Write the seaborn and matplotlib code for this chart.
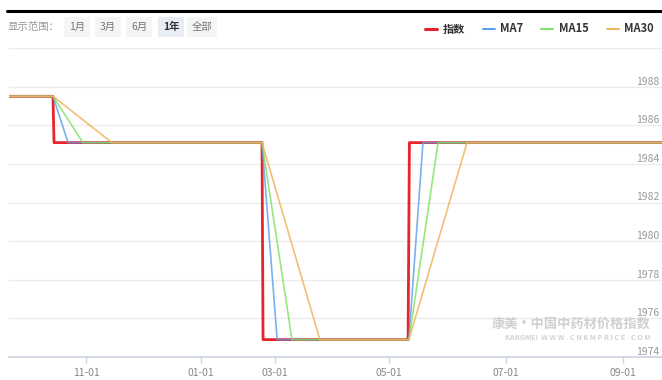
import matplotlib
matplotlib.use("Agg")
import matplotlib.pyplot as plt
import seaborn as sns
import pandas as pd
from matplotlib.lines import Line2D

# x = trading-day index, values = price index
idx_main = [0, 16.4, 16.8, 95.1, 95.5, 150.1, 150.6, 246]
val_main = [1987.5, 1987.5, 1985.1, 1985.1, 1974.9, 1974.9, 1985.1, 1985.1]
idx_ma7 = [0, 16.4, 22.1, 95.1, 100.8, 150.4, 155.7, 246]
idx_ma15 = [0, 16.4, 27.7, 95.1, 106.4, 150.4, 161.4, 246]
idx_ma30 = [0, 16.4, 38.6, 95.1, 116.9, 150.4, 172.3, 246]
val_ma = [1987.5, 1987.5, 1985.1, 1985.1, 1974.9, 1974.9, 1985.1, 1985.1]

tick_pos = [29, 72, 100, 143, 187, 231]
tick_lbl = ['11-01', '01-01', '03-01', '05-01', '07-01', '09-01']
y_ticks = [1974, 1976, 1978, 1980, 1982, 1984, 1986, 1988, 1990]
y_lbls = ['1974', '1976', '1978', '1980', '1982', '1984', '1986', '1988', '']

series = ['指数', 'MA7', 'MA15', 'MA30']
colors = ['#e8242a', '#5a9ee8', '#7fe05f', '#f0b45c']
ranges = ['1月', '3月', '6月', '1年', '全部']

sns.set_theme(style='white')
plt.rcParams['font.family'] = ['Noto Sans CJK SC', 'DejaVu Sans']

fig = plt.figure(figsize=(6.62, 3.8), dpi=100)
ax = fig.add_axes([9.4 / 662, 1 - 357 / 380, 1 - 9.4 / 662, (357 - 48) / 380])

data = [(idx_main, val_main), (idx_ma7, val_ma), (idx_ma15, val_ma), (idx_ma30, val_ma)]
widths = [2.0, 1.2, 1.2, 1.2]
alphas = [1, 0.8, 0.8, 0.85]
for name, (xs, ys), c, w, a in zip(series, data, colors, widths, alphas):
    df = pd.DataFrame({'x': xs, 'y': ys})
    sns.lineplot(data=df, x='x', y='y', ax=ax, color=c, linewidth=w,
                 alpha=a, sort=False, estimator=None, label=name, legend=False)

ax.set_xlim(0, 245.7)
ax.set_ylim(1974, 1990)
ax.set_xticks(tick_pos)
ax.set_xticklabels(tick_lbl)
ax.set_yticks(y_ticks)
ax.set_yticklabels(y_lbls)
ax.set_xlabel('')
ax.set_ylabel('')
ax.yaxis.grid(True, color='#ececec', linewidth=1)
ax.set_axisbelow(True)
for s in ['top', 'right', 'left']:
    ax.spines[s].set_visible(False)
ax.spines['bottom'].set_color('#ccd3e0')
ax.tick_params(axis='x', length=4, width=1, color='#ccd3e0', labelsize=7.5,
               labelcolor='#888888', pad=4, direction='out', bottom=True)
ax.yaxis.tick_right()
ax.tick_params(axis='y', length=0, labelsize=7.5, labelcolor='#999999', pad=-1.8)
for lbl in ax.get_yticklabels():
    lbl.set_horizontalalignment('right')
    lbl.set_verticalalignment('bottom')

# watermark
ax.text(0.983, 1 - (324 - 48) / 309, '康美·中国中药材价格指数', transform=ax.transAxes,
        ha='right', va='center', fontsize=9.5, fontweight='bold', color='#d0d0d0')
ax.text(0.983, 1 - (337 - 48) / 309, 'KANGMEI  W W W . C N K M P R I C E . C O M',
        transform=ax.transAxes, ha='right', va='center', fontsize=5.2,
        fontweight='bold', color='#d2d2d2')

# legend
handles = [Line2D([], [], color=c, linewidth=2.2 if i == 0 else 1.4)
           for i, c in enumerate(colors)]
fig.legend(handles, series, loc='center right', bbox_to_anchor=(1.003, 1 - 29 / 380),
           ncol=4, frameon=False, handlelength=1.1, handletextpad=0.5,
           columnspacing=1.6, prop={'size': 8, 'weight': 'bold',
                                    'family': ['Noto Sans CJK SC', 'DejaVu Sans']},
           labelcolor='#333333')

# toolbar
fig.text(8 / 662, 1 - 27 / 380, '显示范围：', fontsize=7.5, color='#999999', va='center')
btn_x = [77, 108, 139, 171, 202]
for t, bx in zip(ranges, btn_x):
    sel = t == '1年'
    fig.text(bx / 662, 1 - 27 / 380, t, ha='center', va='center', fontsize=7.5,
             color='#333333' if sel else '#777777', fontweight='bold' if sel else 'normal',
             bbox=dict(boxstyle='square,pad=0.45', fc='#e8ecf5' if sel else '#f5f5f5', ec='none'))

fig.add_artist(Line2D([7 / 662, 1], [1 - 10.5 / 380, 1 - 10.5 / 380], color='black',
                      linewidth=2.2, transform=fig.transFigure))

fig.savefig('out.png', dpi=100)
